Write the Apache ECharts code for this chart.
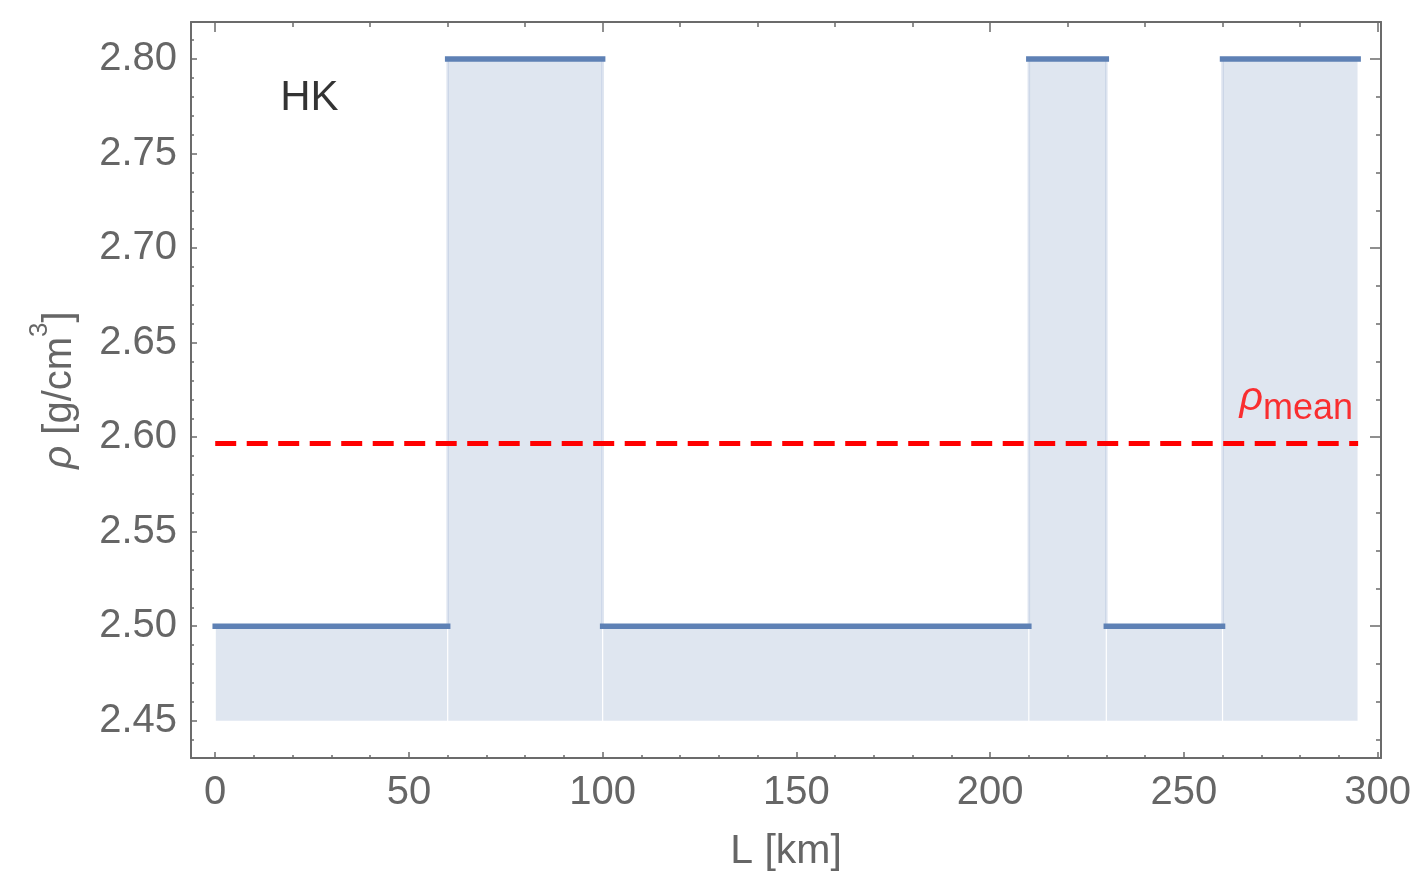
<!DOCTYPE html>
<html>
<head>
<meta charset="utf-8">
<script src="https://cdn.jsdelivr.net/npm/echarts@6/dist/echarts.min.js"></script>
<style>
  html, body { margin: 0; padding: 0; background: #ffffff; }
  #chart { width: 1415px; height: 876px; }
</style>
</head>
<body>
<div id="chart"></div>
<script>
// Piecewise-constant density profile along the HK section
const segStart = [0, 60, 100, 210, 230, 260];       // km
const segEnd   = [60, 100, 210, 230, 260, 295];     // km
const density  = [2.5, 2.8, 2.5, 2.8, 2.5, 2.8];    // g/cm^3
const fillBase = 2.45;                               // lower edge of the shaded area

// Tick labels
const xTicks = [0, 50, 100, 150, 200, 250, 300];
const yTicks = [2.45, 2.50, 2.55, 2.60, 2.65, 2.70, 2.75, 2.80];
const xTopTicks = [0, 100, 200, 300];
const yRightTicks = [2.5, 2.6, 2.7, 2.8];

// Plot range
const X_MIN = -6.25, X_MAX = 300.9;
const Y_MIN = 2.4303, Y_MAX = 2.8196;

// Length-weighted mean density
let totalLen = 0, weighted = 0;
for (let i = 0; i < density.length; i++) {
  const len = segEnd[i] - segStart[i];
  totalLen += len;
  weighted += len * density[i];
}
const meanDensity = weighted / totalLen;

// Minor tick positions
const xMinor = [], xTopMinor = [], yMinor = [], yRightMinor = [];
for (let k = 10; k < 300; k += 10) if (k % 50 !== 0) xMinor.push(k);
for (let k = 20; k < 300; k += 20) if (k % 100 !== 0) xTopMinor.push(k);
for (let k = 244; k <= 281; k++) if (k % 5 !== 0) yMinor.push(k / 100);
for (let k = 244; k <= 280; k += 2) if (k % 10 !== 0) yRightMinor.push(k / 100);

const FRAME = '#6b6b6b';
const TEXT = '#666666';
const LINE = '#5e81b5';
const FILL = '#dfe6f0';
const FONT = '"Liberation Sans", Arial, sans-serif';

function frameAxis(pos, extra) {
  const isX = pos === 'bottom' || pos === 'top';
  return Object.assign({
    type: 'value',
    position: pos,
    min: isX ? X_MIN : Y_MIN,
    max: isX ? X_MAX : Y_MAX,
    splitLine: { show: false },
    axisLine: { show: false, onZero: false },
    axisLabel: { show: false },
    axisTick: { show: false }
  }, extra);
}

function tickSpec(values, len) {
  return { show: true, inside: true, length: len, customValues: values,
           lineStyle: { color: FRAME, width: 1.5 } };
}

const segments = segStart.map((s, i) => [s, segEnd[i], density[i]]);

const option = {
  animation: false,
  grid: { left: 191, right: 34, top: 22, bottom: 118, outerBoundsMode: 'none' },
  xAxis: [
    frameAxis('bottom', {
      axisLine: { show: true, onZero: false, lineStyle: { color: FRAME, width: 2 } },
      axisTick: tickSpec(xTicks, 6),
      axisLabel: { show: true, customValues: xTicks, fontSize: 40, color: TEXT,
                   fontFamily: FONT, margin: 15 },
      name: 'L [km]', nameLocation: 'middle', nameGap: 73,
      nameTextStyle: { fontSize: 41, color: TEXT, fontFamily: FONT }
    }),
    frameAxis('bottom', { axisTick: tickSpec(xMinor, 3) }),
    frameAxis('top', {
      axisLine: { show: true, onZero: false, lineStyle: { color: FRAME, width: 2 } },
      axisTick: tickSpec(xTopTicks, 10)
    }),
    frameAxis('top', { axisTick: tickSpec(xTopMinor, 5) })
  ],
  yAxis: [
    frameAxis('left', {
      axisLine: { show: true, onZero: false, lineStyle: { color: FRAME, width: 2 } },
      axisTick: tickSpec(yTicks, 6),
      axisLabel: { show: true, customValues: yTicks, fontSize: 40, color: TEXT,
                   fontFamily: FONT, margin: 14, formatter: v => v.toFixed(2) },
      name: '{rho|ρ}{t| [g/cm}{sup|3}{t|]}', nameLocation: 'middle', nameGap: 98,
      nameTextStyle: {
        color: TEXT, fontFamily: FONT,
        rich: {
          rho: { fontSize: 40, fontStyle: 'italic', color: TEXT, fontFamily: FONT },
          t: { fontSize: 40, color: TEXT, fontFamily: FONT },
          sup: { fontSize: 26, color: TEXT, fontFamily: FONT, padding: [0, 0, 40, 0] }
        }
      }
    }),
    frameAxis('left', { axisTick: tickSpec(yMinor, 3) }),
    frameAxis('right', {
      axisLine: { show: true, onZero: false, lineStyle: { color: FRAME, width: 2 } },
      axisTick: tickSpec(yRightTicks, 11)
    }),
    frameAxis('right', { axisTick: tickSpec(yRightMinor, 5) })
  ],
  series: [
    {
      // shaded columns under each segment
      type: 'custom',
      xAxisIndex: 0, yAxisIndex: 0,
      data: segments,
      renderItem: function (params, api) {
        const p0 = api.coord([api.value(0), fillBase]);
        const p1 = api.coord([api.value(1), api.value(2)]);
        return {
          type: 'rect',
          shape: { x: p0[0] + 0.6, y: p1[1], width: p1[0] - p0[0] - 1.2, height: p0[1] - p1[1] },
          style: { fill: FILL }
        };
      },
      z: 1
    },
    {
      // faint vertical risers between levels
      type: 'custom',
      xAxisIndex: 0, yAxisIndex: 0,
      data: segments.slice(1).map((s, i) => [s[0], segments[i][2], s[2]]),
      renderItem: function (params, api) {
        const a = api.coord([api.value(0), api.value(1)]);
        const b = api.coord([api.value(0), api.value(2)]);
        return {
          type: 'line',
          shape: { x1: a[0], y1: a[1], x2: b[0], y2: b[1] },
          style: { stroke: 'rgba(94,129,181,0.22)', lineWidth: 2.5 }
        };
      },
      z: 2
    },
    {
      // horizontal density levels
      type: 'custom',
      xAxisIndex: 0, yAxisIndex: 0,
      data: segments,
      renderItem: function (params, api) {
        const a = api.coord([api.value(0), api.value(2)]);
        const b = api.coord([api.value(1), api.value(2)]);
        return {
          type: 'line',
          shape: { x1: a[0], y1: a[1], x2: b[0], y2: b[1] },
          style: { stroke: LINE, lineWidth: 5.5, lineCap: 'square' }
        };
      },
      z: 3
    },
    {
      // mean density
      type: 'line',
      xAxisIndex: 0, yAxisIndex: 0,
      data: [[segStart[0], meanDensity], [segEnd[segEnd.length - 1], meanDensity]],
      symbol: 'none',
      lineStyle: { color: '#ff0000', width: 5, type: [21, 10.5] },
      silent: true,
      z: 4
    },
    {
      // annotations
      type: 'scatter',
      xAxisIndex: 0, yAxisIndex: 0,
      symbolSize: 0,
      silent: true,
      z: 5,
      data: [
        {
          value: [24.3, 2.779],
          label: { show: true, position: 'inside', formatter: 'HK', fontSize: 42,
                   color: '#000000', fontFamily: FONT }
        },
        {
          value: [segEnd[segEnd.length - 1], meanDensity],
          label: {
            show: true, position: [-5, -17], align: 'right', verticalAlign: 'bottom',
            formatter: '{rho|ρ}{sub|mean}',
            rich: {
              rho: { fontSize: 41, fontStyle: 'italic', color: '#ff0000', fontFamily: FONT },
              sub: { fontSize: 36, color: '#ff0000', fontFamily: FONT, padding: [20, 0, 0, 0] }
            }
          }
        }
      ]
    }
  ]
};

const chart = echarts.init(document.getElementById('chart'), null, { renderer: 'canvas' });
chart.setOption(option);
</script>
</body>
</html>
